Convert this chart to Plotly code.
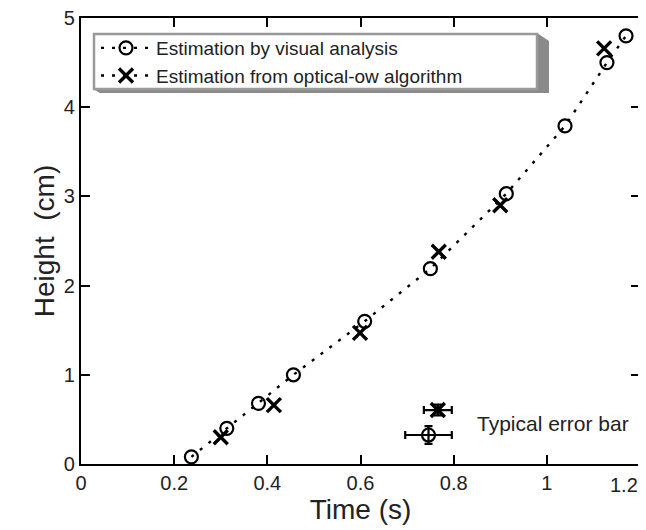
import plotly.graph_objects as go

# Data
visual_t = [0.237, 0.313, 0.381, 0.456, 0.609, 0.750, 0.913, 1.039, 1.129, 1.170]
visual_h = [0.08, 0.40, 0.68, 1.00, 1.60, 2.19, 3.03, 3.79, 4.50, 4.80]
flow_t = [0.300, 0.414, 0.599, 0.768, 0.900, 1.123]
flow_h = [0.30, 0.66, 1.47, 2.38, 2.90, 4.66]

err_visual = dict(t=0.746, h=0.325, dt=0.05, dh=0.10)
err_flow = dict(t=0.766, h=0.605, dt=0.03, dh=0.06)

x_ticks = [0, 0.2, 0.4, 0.6, 0.8, 1, 1.2]
x_ticklabels = ["0", "0.2", "0.4", "0.6", "0.8", "1", "1.2"]
y_ticks = [0, 1, 2, 3, 4, 5]

FONT = "Liberation Sans, Arial, sans-serif"
OFF = 8  # default page body margin
W, H = 638, 522
L, R, T, B = 73, 6, 10, 66
pw, ph = W - L - R, H - T - B


def px(x):
    return (x - OFF - L) / pw


def py(y):
    return (H - B - (y - OFF)) / ph


LINE = dict(color="black", width=2.4, dash="3px,8px")
CIRC = dict(symbol="circle-open", size=13, color="black", line=dict(width=2.2))
CROSS = dict(symbol="x-thin-open", size=14, color="black", line=dict(width=3.4))

fig = go.Figure()
fig.add_trace(go.Scatter(
    x=visual_t, y=visual_h, mode="lines+markers",
    name="Estimation by visual analysis", line=LINE, marker=CIRC,
))
# legend entry for the optical-flow series (line + marker sample)
fig.add_trace(go.Scatter(
    x=[None], y=[None], mode="lines+markers",
    name="Estimation from optical-ow algorithm", line=LINE, marker=CROSS,
))
fig.add_trace(go.Scatter(
    x=flow_t, y=flow_h, mode="markers", showlegend=False,
    name="Estimation from optical-ow algorithm", marker=CROSS,
))
fig.add_trace(go.Scatter(
    x=[err_visual["t"]], y=[err_visual["h"]], mode="markers", showlegend=False,
    marker=CIRC,
    error_x=dict(type="constant", value=err_visual["dt"], color="black", thickness=2.2, width=4),
    error_y=dict(type="constant", value=err_visual["dh"], color="black", thickness=2.2, width=4),
))
fig.add_trace(go.Scatter(
    x=[err_flow["t"]], y=[err_flow["h"]], mode="markers", showlegend=False,
    marker=CROSS,
    error_x=dict(type="constant", value=err_flow["dt"], color="black", thickness=2.2, width=4),
    error_y=dict(type="constant", value=err_flow["dh"], color="black", thickness=2.2, width=4),
))

fig.add_annotation(x=0.845, y=0.45, xref="x", yref="y", text="Typical error bar",
                   showarrow=False, xanchor="left", yanchor="middle",
                   font=dict(family=FONT, size=21, color="#222"))

# last x tick label drawn inward so it stays inside the page (as in the reference)
shown_ticktext = x_ticklabels[:-1] + [""]
fig.add_annotation(x=x_ticks[-1], y=0, xref="x", yref="paper", text=x_ticklabels[-1],
                   showarrow=False, xanchor="right", yanchor="top", xshift=0, yshift=-8,
                   font=dict(family=FONT, size=20, color="#222"))

# legend box with 3D shadow
shadow = "M {},{} L {},{} L {},{} L {},{} L {},{} Z".format(
    px(537), py(33), px(549), py(41), px(549), py(93), px(100), py(93), px(93), py(89))
fig.add_shape(type="path", path=shadow, xref="paper", yref="paper",
              fillcolor="#8a8a8a", line=dict(width=0), layer="above")
fig.add_shape(type="rect", xref="paper", yref="paper",
              x0=px(94), x1=px(537), y0=py(89), y1=py(34),
              fillcolor="white", line=dict(color="#9a9a9a", width=2.5), layer="above")

fig.update_layout(
    width=W, height=H,
    margin=dict(l=L, r=R, t=T, b=B, autoexpand=False),
    paper_bgcolor="white", plot_bgcolor="white",
    font=dict(family=FONT, color="#222", size=19),
    legend=dict(x=px(96), y=py(29), xanchor="left", yanchor="top",
                bgcolor="rgba(0,0,0,0)", borderwidth=0,
                font=dict(family=FONT, size=19, color="#222"),
                tracegroupgap=0, itemwidth=50),
    xaxis=dict(range=[0, 1.2], tickvals=x_ticks, ticktext=shown_ticktext,
               ticks="inside", ticklen=9, tickwidth=2.2, tickcolor="black",
               showline=True, linecolor="black", linewidth=2.4, mirror="ticks",
               showgrid=False, zeroline=False, ticklabeloverflow="allow",
               tickfont=dict(family=FONT, size=20, color="#222"),
               title=dict(text="Time (s)", font=dict(family=FONT, size=28, color="#222"), standoff=6)),
    yaxis=dict(range=[0, 5], tickvals=y_ticks,
               ticks="inside", ticklen=9, tickwidth=2.2, tickcolor="black",
               showline=True, linecolor="black", linewidth=2.4, mirror="ticks",
               showgrid=False, zeroline=False, ticklabeloverflow="allow",
               tickfont=dict(family=FONT, size=20, color="#222"),
               title=dict(text="Height  (cm)", font=dict(family=FONT, size=28, color="#222"), standoff=1)),
)

fig.write_html("out.html")
